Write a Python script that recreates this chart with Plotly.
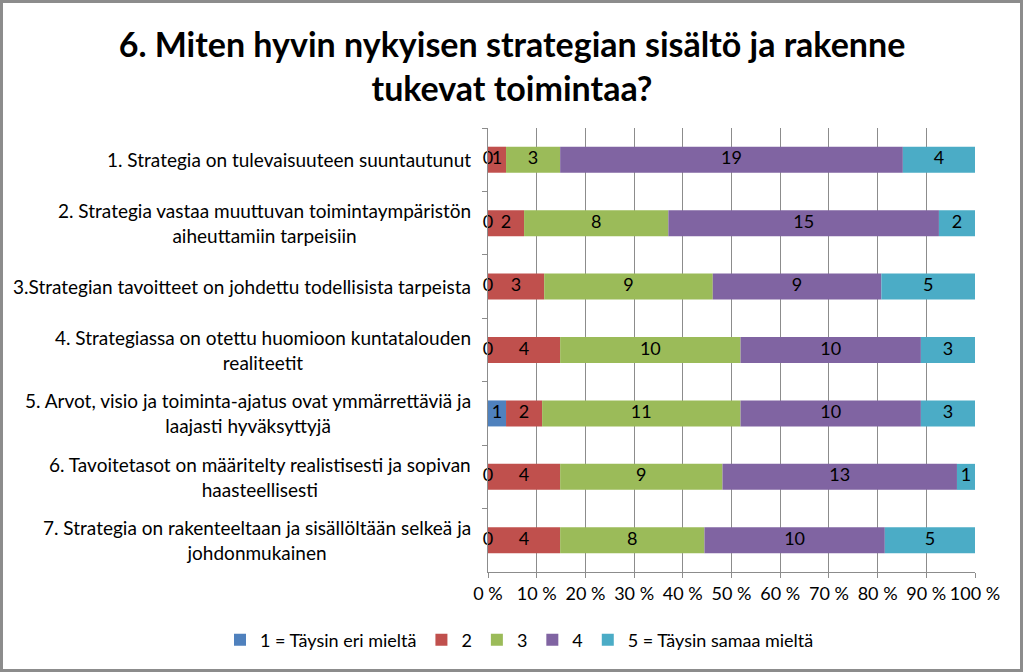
import plotly.graph_objects as go

categories = [
    "1. Strategia on tulevaisuuteen suuntautunut",
    "2. Strategia vastaa muuttuvan toimintaympäristön<br>aiheuttamiin tarpeisiin",
    "3.Strategian tavoitteet on johdettu todellisista tarpeista",
    "4. Strategiassa on otettu huomioon kuntatalouden<br>realiteetit",
    "5. Arvot, visio ja toiminta-ajatus ovat ymmärrettäviä ja<br>laajasti hyväksyttyjä",
    "6. Tavoitetasot on määritelty realistisesti ja sopivan<br>haasteellisesti",
    "7. Strategia on rakenteeltaan ja sisällöltään selkeä ja<br>johdonmukainen",
]
series_names = ["1 = Täysin eri mieltä", "2", "3", "4", "5 = Täysin samaa mieltä"]
s1 = [0, 0, 0, 0, 1, 0, 0]
s2 = [1, 2, 3, 4, 2, 4, 4]
s3 = [3, 8, 9, 10, 11, 9, 8]
s4 = [19, 15, 9, 10, 10, 13, 10]
s5 = [4, 2, 5, 3, 3, 1, 5]
colors = ["#4F81BD", "#C0504D", "#9BBB59", "#8064A2", "#4BACC6"]
tick_vals = [0, 0.1, 0.2, 0.3, 0.4, 0.5, 0.6, 0.7, 0.8, 0.9, 1.0]
tick_text = ["0 %", "10 %", "20 %", "30 %", "40 %", "50 %", "60 %", "70 %", "80 %", "90 %", "100 %"]

FONT = "Lato"
W, H = 1024, 672
ML, MR, MT, MB = 488, 49, 128, 100

series = [s1, s2, s3, s4, s5]
totals = [sum(v) for v in zip(*series)]

fig = go.Figure()
cum = [0.0] * len(categories)
label_x, label_y, label_t = [], [], []
for name, vals, col in zip(series_names, series, colors):
    frac = [v / t for v, t in zip(vals, totals)]
    fig.add_trace(go.Bar(
        y=categories, x=frac, base=cum[:], orientation="h", name=name,
        marker=dict(color=col, line=dict(width=0)), hoverinfo="skip",
    ))
    for i, (v, f) in enumerate(zip(vals, frac)):
        label_x.append(cum[i] + f / 2)
        label_y.append(categories[i])
        label_t.append(str(v))
    cum = [c + f for c, f in zip(cum, frac)]

fig.add_trace(go.Scatter(
    x=label_x, y=label_y, text=label_t, mode="text", textposition="middle center",
    textfont=dict(family=FONT, size=18, color="#000000"), showlegend=False,
    cliponaxis=False, hoverinfo="skip",
))

for c in categories:
    fig.add_annotation(
        x=0, xref="paper", xshift=-15, y=c, yref="y", text=c, showarrow=False,
        xanchor="right", yanchor="middle", align="center",
        font=dict(family=FONT, size=19, color="#000000"),
    )

pw = W - ML - MR
ph = H - MT - MB
fig.add_shape(
    type="rect", xref="paper", yref="paper",
    x0=(1.5 - ML) / pw, x1=(W - 2.5 - ML) / pw,
    y0=-(MB - 1.5) / ph, y1=1 + (MT - 1.5) / ph,
    line=dict(color="#8C8C8C", width=3), layer="above",
)

fig.update_layout(
    width=W, height=H, barmode="overlay", bargap=0.59,
    margin=dict(l=ML, r=MR, t=MT, b=MB, autoexpand=False),
    paper_bgcolor="white", plot_bgcolor="white",
    title=dict(
        text="<b>6. Miten hyvin nykyisen strategian sisältö ja rakenne<br>tukevat toimintaa?</b>",
        x=0.5, xref="container", xanchor="center", y=1 - 57 / H, yref="container", yanchor="middle",
        font=dict(family=FONT, size=34, color="#000000"),
    ),
    xaxis=dict(
        range=[0, 1], tickvals=tick_vals, ticktext=tick_text,
        showgrid=True, gridcolor="#8C8C8C", gridwidth=1,
        ticks="outside", ticklen=5, tickcolor="#8C8C8C",
        showline=True, linecolor="#8C8C8C", zeroline=False,
        tickfont=dict(family=FONT, size=18, color="#000000"),
    ),
    yaxis=dict(
        autorange="reversed", showticklabels=False, tickson="boundaries",
        ticks="outside", ticklen=5, tickcolor="#8C8C8C",
        showline=True, linecolor="#8C8C8C", showgrid=False,
    ),
    legend=dict(
        orientation="h", x=(220 - ML) / pw, xref="paper", xanchor="left",
        y=-(640 - (H - MB)) / ph, yref="paper", yanchor="middle",
        font=dict(family=FONT, size=18, color="#000000"),
        traceorder="normal",
    ),
    showlegend=True,
)

fig.write_html("out.html", config={"displayModeBar": False},
               post_script="document.body.style.margin='0';")
